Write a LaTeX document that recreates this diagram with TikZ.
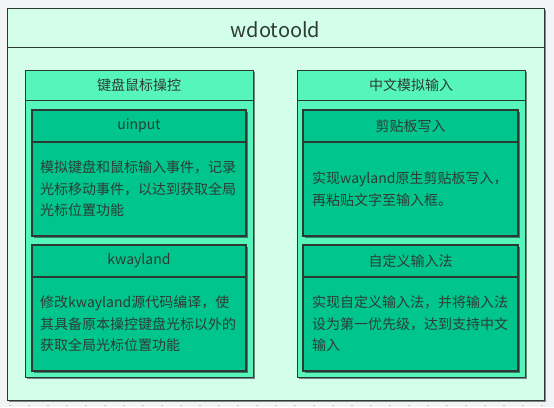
\documentclass[tikz,border=0pt]{standalone}
\usepackage{fontspec}
\setmainfont{Noto Sans CJK SC}
\usetikzlibrary{shadows}

\definecolor{pagebg}{HTML}{F2F3F5}
\definecolor{outerfill}{HTML}{D3FEEA}
\definecolor{groupfill}{HTML}{55F5BC}
\definecolor{itemfill}{HTML}{00C68E}
\definecolor{edge}{HTML}{2B3833}
\definecolor{ink}{HTML}{2F3B36}

\tikzset{
  box/.style={rectangle, anchor=north west, inner sep=0pt, outer sep=0pt,
    draw=edge, line width=0.9pt,
    drop shadow={shadow xshift=1.6pt, shadow yshift=-1.6pt, fill=black, opacity=0.45}},
  outerbox/.style={box, fill=outerfill},
  groupbox/.style={box, fill=groupfill},
  itembox/.style={box, fill=itemfill, line width=1.1pt},
  divider/.style={draw=edge, line width=0.9pt},
  titletext/.style={text=ink, font=\fontsize{20}{24}\selectfont},
  headtext/.style={text=ink, font=\fontsize{14}{17}\selectfont},
  bodytext/.style={text=ink, anchor=west, align=left, inner sep=0pt,
    font=\fontsize{14}{21.5}\selectfont},
}

\begin{document}
\begin{tikzpicture}[x=1pt, y=-1pt]
  % canvas
  \fill[pagebg] (0,0) rectangle (554,407);
  \useasboundingbox (0,0) rectangle (554,407);
  \draw[gray!45, line width=1pt, dash pattern=on 1.5pt off 17.5pt] (9,405) -- (554,405);

  % outer frame
  \node[outerbox, minimum width=537pt, minimum height=392pt] (main) at (7,8) {};
  \draw[divider] (main.west |- 0,47) -- (main.east |- 0,47);
  \node[titletext] (maintitle) at (275.5,30) {wdotoold};

  % left group: keyboard and mouse control
  \node[groupbox, minimum width=228pt, minimum height=307pt] (kbd) at (25,70) {};
  \draw[divider] (kbd.west |- 0,100) -- (kbd.east |- 0,100);
  \node[headtext] (kbdtitle) at (139,85) {键盘鼠标操控};

  \node[itembox, minimum width=214pt, minimum height=126pt] (uinput) at (32,110) {};
  \draw[divider, line width=1.1pt] (uinput.west |- 0,142) -- (uinput.east |- 0,142);
  \node[headtext] (uinputtitle) at (139,126) {uinput};
  \node[bodytext] (uinputbody) at (40,189)
    {模拟键盘和鼠标输入事件，记录\\光标移动事件，以达到获取全局\\光标位置功能};

  \node[itembox, minimum width=214pt, minimum height=126pt] (kway) at (32,245) {};
  \draw[divider, line width=1.1pt] (kway.west |- 0,277) -- (kway.east |- 0,277);
  \node[headtext] (kwaytitle) at (139,261) {kwayland};
  \node[bodytext] (kwaybody) at (40,324)
    {修改kwayland源代码编译，使\\其具备原本操控键盘光标以外的\\获取全局光标位置功能};

  % right group: Chinese text input
  \node[groupbox, minimum width=228pt, minimum height=307pt] (cn) at (297,70) {};
  \draw[divider] (cn.west |- 0,100) -- (cn.east |- 0,100);
  \node[headtext] (cntitle) at (411,85) {中文模拟输入};

  \node[itembox, minimum width=215pt, minimum height=126pt] (clip) at (303,110) {};
  \draw[divider, line width=1.1pt] (clip.west |- 0,142) -- (clip.east |- 0,142);
  \node[headtext] (cliptitle) at (410.5,126) {剪贴板写入};
  \node[bodytext] (clipbody) at (312,189)
    {实现wayland原生剪贴板写入，\\再粘贴文字至输入框。};

  \node[itembox, minimum width=215pt, minimum height=126pt] (ime) at (303,245) {};
  \draw[divider, line width=1.1pt] (ime.west |- 0,277) -- (ime.east |- 0,277);
  \node[headtext] (imetitle) at (410.5,261) {自定义输入法};
  \node[bodytext] (imebody) at (312,324)
    {实现自定义输入法，并将输入法\\设为第一优先级，达到支持中文\\输入};
\end{tikzpicture}
\end{document}
